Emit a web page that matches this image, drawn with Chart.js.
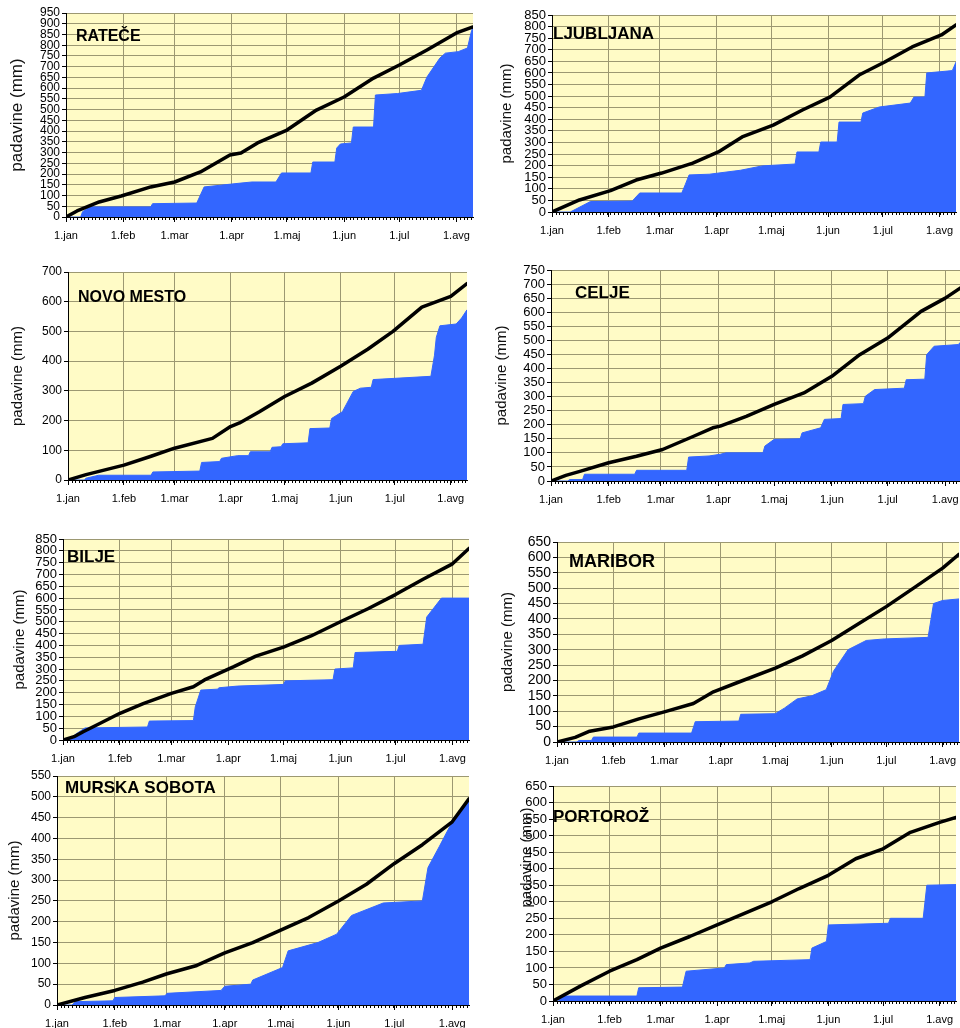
<!DOCTYPE html>
<html lang="sl">
<head>
<meta charset="utf-8">
<script src="https://cdn.jsdelivr.net/npm/chart.js@4/dist/chart.umd.min.js"></script>
<style>
  html, body { margin: 0; padding: 0; background: #fff; }
  body { width: 960px; height: 1028px; overflow: hidden; position: relative; }
  canvas { position: absolute; }
</style>
</head>
<body>
<script>
// Os x: dnevi od 1. januarja (0 = 1.jan)
const MESECI = ['1.jan', '1.feb', '1.mar', '1.apr', '1.maj', '1.jun', '1.jul', '1.avg'];
const ZACETKI_MESECEV = [0, 31, 59, 90, 120, 151, 181, 212];
const ZADNJI_DAN = 221;
const NASLOV_OSI = 'padavine (mm)';

// [dan, mm] – kumulativne padavine v letu (modro) in dolgoletno povprečje (črno)
const rateceVsota = [[0,0],[8,0],[9,25],[13,47],[46,47],[47,62],[71,65],[75,140],[95,158],[101,163],[114,163],[117,205],[133,205],[134,256],[146,256],[147,321],[149,340],[155,345],[156,419],[167,419],[168,568],[180,575],[193,590],[196,652],[203,740],[206,763],[213,770],[218,787],[220,860],[221,885]];
const rateceNormala = [[0,0],[6,28],[18,70],[30,98],[46,140],[59,163],[73,210],[89,289],[95,298],[104,345],[120,405],[136,498],[151,559],[167,647],[181,708],[196,778],[212,857],[221,885]];

const ljubljanaVsota = [[0,0],[10,0],[21,45],[44,47],[45,57],[48,82],[71,82],[73,120],[75,160],[86,163],[103,180],[115,199],[133,207],[134,259],[146,259],[147,302],[156,302],[157,388],[169,388],[170,427],[179,453],[196,470],[198,496],[204,496],[205,600],[219,610],[221,647]];
const ljubljanaNormala = [[0,0],[15,52],[32,92],[46,138],[60,168],[77,211],[91,259],[104,324],[121,375],[137,440],[152,496],[168,591],[182,647],[197,712],[213,764],[221,807]];

const novoMestoVsota = [[0,0],[9,0],[10,6],[17,16],[46,16],[47,27],[73,30],[74,59],[84,62],[85,73],[94,82],[100,82],[101,95],[112,95],[113,110],[118,112],[119,122],[133,125],[134,173],[145,175],[146,207],[152,230],[158,298],[162,309],[168,312],[169,338],[201,349],[203,420],[204,480],[206,519],[215,525],[218,545],[221,573]];
const novoMestoNormala = [[0,0],[10,18],[31,50],[46,80],[59,107],[80,140],[90,180],[95,192],[106,230],[120,281],[135,326],[151,383],[166,440],[180,500],[196,582],[212,618],[221,661]];

const celjeVsota = [[0,0],[9,0],[10,5],[17,5],[18,24],[45,24],[46,38],[73,38],[74,85],[85,89],[91,95],[94,100],[114,100],[115,124],[120,148],[134,150],[135,171],[145,189],[147,219],[156,222],[157,272],[168,275],[169,301],[174,325],[190,330],[191,360],[201,362],[202,449],[206,479],[219,485],[221,499]];
const celjeNormala = [[0,0],[8,20],[16,35],[31,65],[46,88],[60,112],[77,160],[87,189],[91,195],[105,230],[120,272],[136,313],[151,372],[166,449],[181,508],[199,603],[212,650],[221,690]];

const biljeVsota = [[0,0],[3,0],[7,25],[12,51],[46,55],[47,80],[71,82],[72,140],[75,211],[84,215],[85,221],[95,228],[120,235],[121,250],[147,255],[148,300],[158,305],[159,370],[182,375],[183,400],[196,405],[198,520],[202,560],[206,600],[221,600]];
const biljeNormala = [[0,0],[6,14],[11,35],[20,70],[31,113],[44,155],[59,197],[71,225],[77,254],[93,310],[105,355],[120,393],[135,440],[151,500],[166,555],[181,615],[196,680],[212,745],[221,810]];

const mariborVsota = [[0,0],[11,0],[12,5],[19,5],[20,16],[44,16],[45,29],[74,29],[76,66],[100,68],[101,90],[120,92],[125,110],[132,140],[140,150],[148,170],[152,230],[160,300],[170,330],[180,335],[204,340],[207,450],[212,460],[221,465]];
const mariborNormala = [[0,0],[10,15],[18,35],[31,49],[45,75],[59,98],[75,125],[86,163],[100,195],[120,240],[135,280],[151,330],[166,385],[181,440],[196,500],[212,565],[221,610]];

const murskaSobotaVsota = [[0,0],[8,0],[10,8],[30,10],[31,18],[58,22],[59,28],[88,35],[90,45],[104,50],[105,60],[121,90],[124,130],[140,150],[150,170],[158,215],[175,245],[196,250],[199,330],[205,380],[212,440],[221,495]];
const murskaSobotaNormala = [[0,0],[15,18],[31,35],[46,55],[59,75],[75,95],[90,125],[105,150],[120,180],[135,210],[151,250],[166,290],[181,340],[196,385],[212,440],[221,495]];

const portorozVsota = [[0,0],[3,0],[5,15],[46,15],[47,40],[71,42],[73,90],[94,100],[95,110],[108,115],[110,120],[141,125],[142,160],[150,180],[151,230],[184,235],[185,250],[203,250],[205,350],[221,352]];
const portorozNormala = [[0,0],[15,45],[31,90],[46,125],[59,160],[75,195],[90,230],[105,265],[120,300],[135,340],[151,380],[166,430],[181,460],[196,510],[212,540],[221,555]];

const PISAVA = "Arial, 'Liberation Sans', sans-serif";
const RUMENA = '#FFFBC6';
const MREZA = '#9C9872';
const MODRA = '#3366FF';

// Postavitev posameznih grafikonov na strani
const GRAFI = [
  { ime: 'RATEČE', vsota: rateceVsota, normala: rateceNormala, max: 950, korak: 50,
    levo: 66, zgoraj: 13, spodaj: 217, dan: 1.84, osX: 17, osY: 0, osPisava: 17, stPisava: 12, imeX: 10, imeY: 28, imePisava: 16 },
  { ime: 'LJUBLJANA', vsota: ljubljanaVsota, normala: ljubljanaNormala, max: 850, korak: 50,
    levo: 552, zgoraj: 15, spodaj: 212, dan: 1.83, osX: 507, osY: 0, osPisava: 15, stPisava: 13, imeX: 1, imeY: 24, imePisava: 17 },
  { ime: 'NOVO MESTO', vsota: novoMestoVsota, normala: novoMestoNormala, max: 700, korak: 100,
    levo: 68, zgoraj: 272, spodaj: 480, dan: 1.807, osX: 18, osY: 0, osPisava: 15, stPisava: 12, imeX: 10, imeY: 30, imePisava: 16 },
  { ime: 'CELJE', vsota: celjeVsota, normala: celjeNormala, max: 750, korak: 50,
    levo: 551, zgoraj: 270, spodaj: 481, dan: 1.858, osX: 502, osY: 0, osPisava: 15, stPisava: 13, imeX: 24, imeY: 28, imePisava: 17 },
  { ime: 'BILJE', vsota: biljeVsota, normala: biljeNormala, max: 850, korak: 50,
    levo: 63, zgoraj: 539, spodaj: 740, dan: 1.835, osX: 20, osY: 0, osPisava: 15, stPisava: 13, imeX: 4, imeY: 23, imePisava: 17 },
  { ime: 'MARIBOR', vsota: mariborVsota, normala: mariborNormala, max: 650, korak: 50,
    levo: 557, zgoraj: 542, spodaj: 742, dan: 1.82, osX: 508, osY: 0, osPisava: 15, stPisava: 14, imeX: 12, imeY: 25, imePisava: 18 },
  { ime: 'MURSKA SOBOTA', vsota: murskaSobotaVsota, normala: murskaSobotaNormala, max: 550, korak: 50,
    levo: 57, zgoraj: 776, spodaj: 1005, dan: 1.863, osX: 15, osY: 0, osPisava: 15, stPisava: 12, imeX: 8, imeY: 17, imePisava: 17 },
  { ime: 'PORTOROŽ', vsota: portorozVsota, normala: portorozNormala, max: 650, korak: 50,
    levo: 553, zgoraj: 786, spodaj: 1001, dan: 1.825, osX: 527, osY: -36, osPisava: 15, stPisava: 13, imeX: 0, imeY: 36, imePisava: 17 }
];

const ozadje = {
  id: 'ozadje',
  beforeDraw(ch) {
    const a = ch.chartArea, c = ch.ctx;
    c.save();
    c.fillStyle = RUMENA;
    c.fillRect(a.left, a.top, a.right - a.left, a.bottom - a.top);
    c.restore();
  }
};

// drobne oznake dni pod osjo x, naslov osi y in ime postaje
const oznake = {
  id: 'oznake',
  afterDraw(ch, args, o) {
    const c = ch.ctx, a = ch.chartArea, sx = ch.scales.x;
    c.save();
    c.strokeStyle = '#000';
    c.lineWidth = 1;
    c.beginPath();
    for (let d = 0; d <= ZADNJI_DAN; d += 2) {
      const px = Math.round(sx.getPixelForValue(d)) + 0.5;
      c.moveTo(px, a.bottom);
      c.lineTo(px, a.bottom + 3);
    }
    c.stroke();

    c.save();
    c.translate(o.osX, (a.top + a.bottom) / 2 + o.osY);
    c.rotate(-Math.PI / 2);
    c.fillStyle = '#111';
    c.font = o.osPisava + 'px ' + PISAVA;
    c.textAlign = 'center';
    c.textBaseline = 'middle';
    c.fillText(NASLOV_OSI, 0, 0);
    c.restore();

    c.fillStyle = '#000';
    c.font = 'bold ' + o.velikost + 'px ' + PISAVA;
    c.textBaseline = 'alphabetic';
    c.fillText(o.ime, a.left + o.dx, a.top + o.dy);
    c.restore();
  }
};

function narisi(p) {
  const padTop = 14, visinaX = 30, padDesno = 14, robLevo = 12;
  const platnoLevo = p.osX - robLevo;
  const sirinaY = p.levo - platnoLevo;
  const sirinaRisbe = Math.round(ZADNJI_DAN * p.dan);
  const c = document.createElement('canvas');
  c.width = sirinaY + sirinaRisbe + padDesno;
  c.height = padTop + (p.spodaj - p.zgoraj) + visinaX;
  c.style.left = platnoLevo + 'px';
  c.style.top = (p.zgoraj - padTop) + 'px';
  document.body.appendChild(c);

  new Chart(c, {
    type: 'line',
    data: {
      datasets: [
        { label: 'povprečje', data: p.normala.map(([x, y]) => ({ x, y })),
          borderColor: '#000', borderWidth: 3.5, pointRadius: 0, fill: false, tension: 0,
          borderJoinStyle: 'round', borderCapStyle: 'round' },
        { label: 'padavine', data: p.vsota.map(([x, y]) => ({ x, y })),
          borderColor: MODRA, borderWidth: 1, backgroundColor: MODRA, fill: 'origin',
          pointRadius: 0, tension: 0 }
      ]
    },
    options: {
      responsive: false,
      animation: false,
      events: [],
      layout: { padding: { top: padTop, right: padDesno, left: 0, bottom: 0 } },
      plugins: {
        legend: { display: false },
        tooltip: { enabled: false },
        oznake: { ime: p.ime, dx: p.imeX, dy: p.imeY, velikost: p.imePisava,
                  osX: robLevo, osY: p.osY, osPisava: p.osPisava }
      },
      scales: {
        x: {
          type: 'linear', min: 0, max: ZADNJI_DAN,
          afterBuildTicks: s => { s.ticks = ZACETKI_MESECEV.map(v => ({ value: v })); },
          afterFit: s => { s.height = visinaX; },
          ticks: { callback: (v, i) => MESECI[i], autoSkip: false, maxRotation: 0,
                   font: { size: 11, family: PISAVA }, color: '#000', padding: 7 },
          grid: { color: ctx => (ctx.tick && ctx.tick.value === 0) ? 'rgba(0,0,0,0)' : MREZA,
                  lineWidth: 1, tickLength: 5, tickColor: '#000' },
          border: { color: '#000', width: 1 }
        },
        y: {
          min: 0, max: p.max,
          afterFit: s => { s.width = sirinaY; },
          ticks: { stepSize: p.korak, autoSkip: false, font: { size: p.stPisava, family: PISAVA },
                   color: '#000', padding: 2 },
          grid: { color: MREZA, lineWidth: 1, tickLength: 4, tickColor: '#000' },
          border: { color: '#000', width: 1 },
          title: { display: false, text: NASLOV_OSI }
        }
      }
    },
    plugins: [ozadje, oznake]
  });
}

GRAFI.forEach(narisi);
</script>
</body>
</html>
